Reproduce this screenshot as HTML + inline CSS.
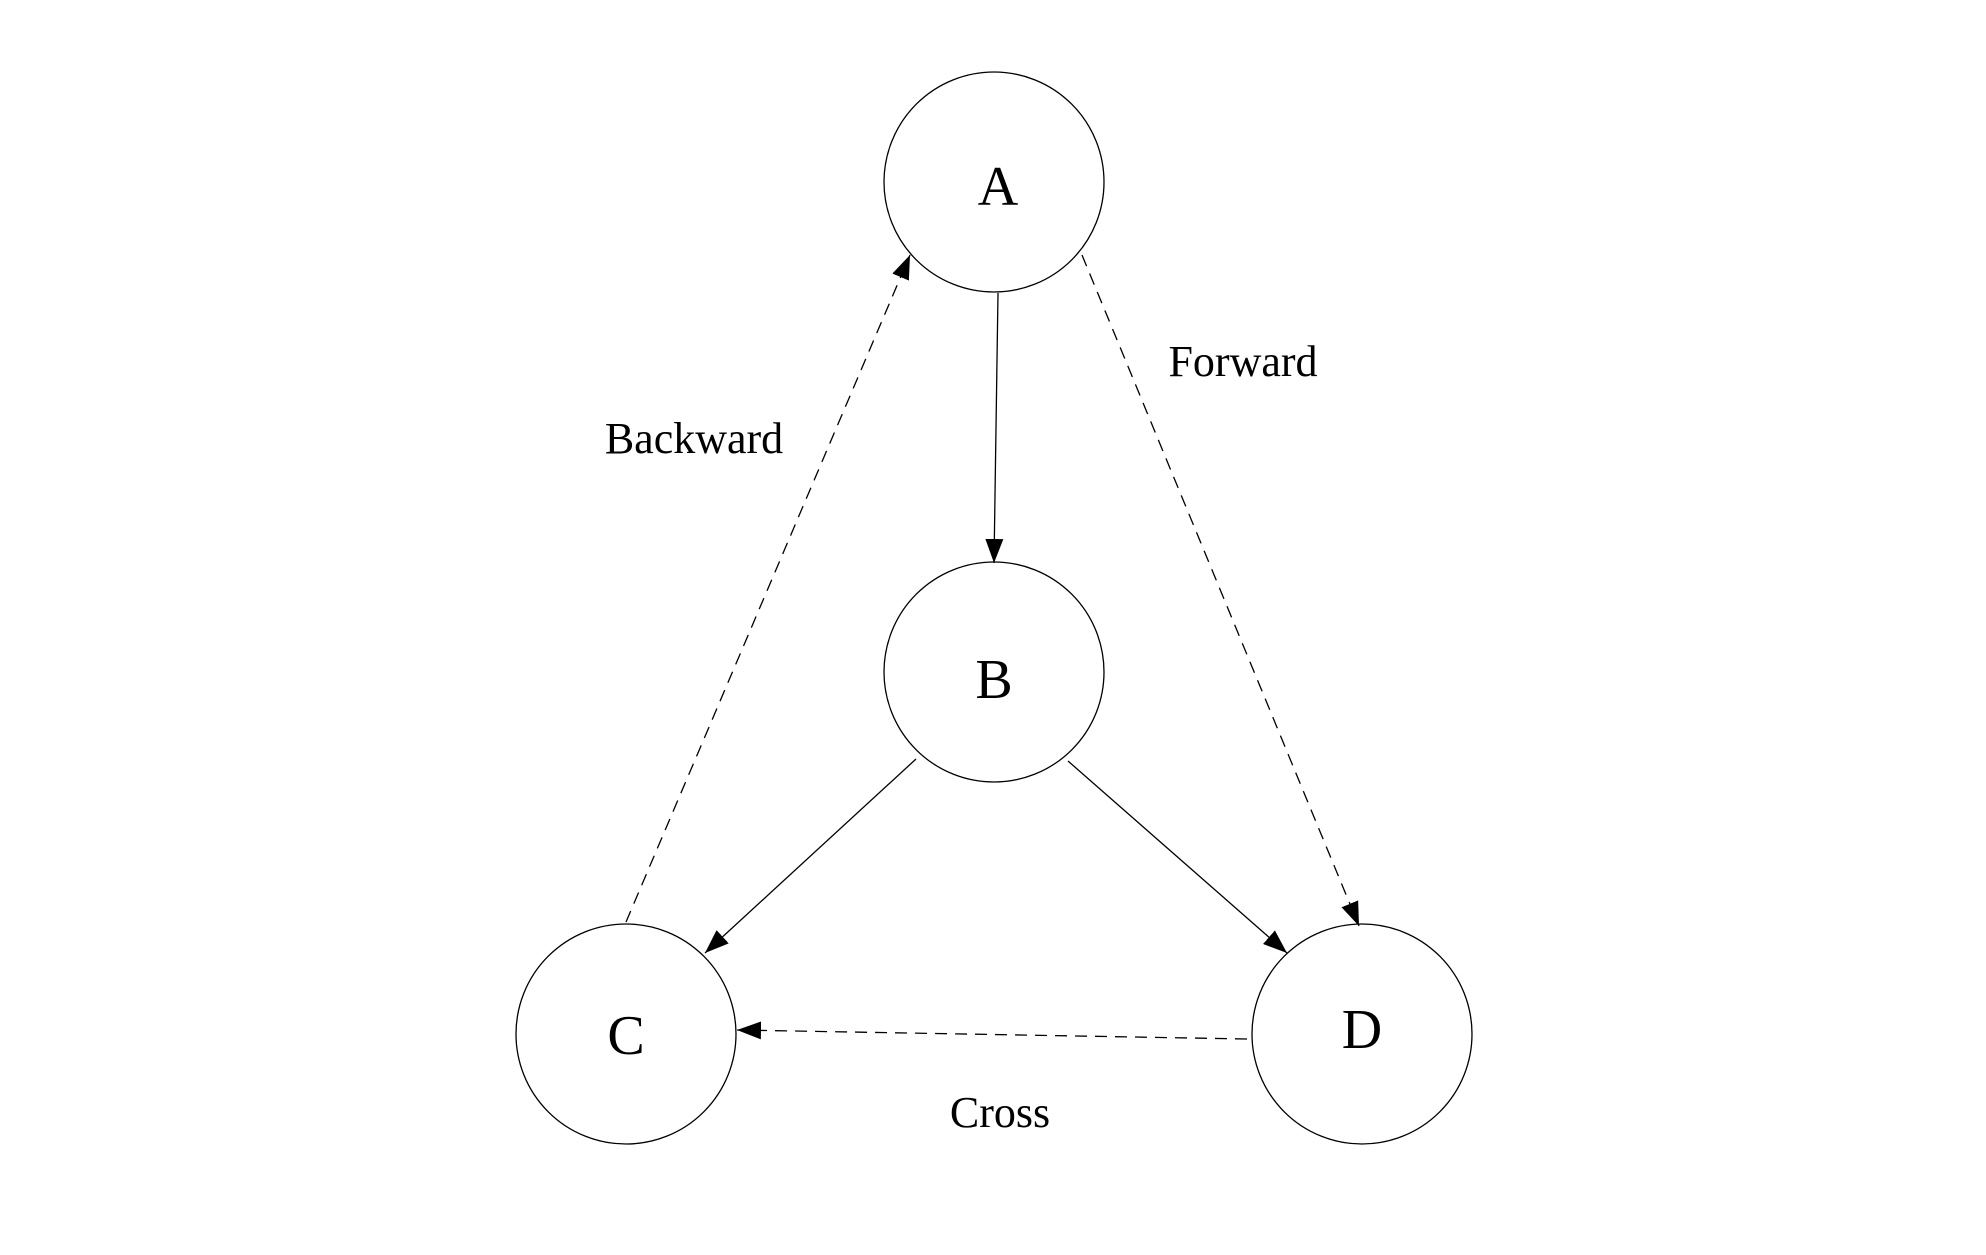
<!DOCTYPE html>
<html><head><style>body{margin:0;background:#fff}</style></head><body>
<svg width="1986" height="1250" viewBox="0 0 1986 1250" xmlns="http://www.w3.org/2000/svg">
<defs>
<marker id="a" viewBox="0 0 24 18" refX="24" refY="9" markerWidth="24" markerHeight="18" markerUnits="userSpaceOnUse" orient="auto"><path d="M0,0L24,9L0,18z" fill="#000"/></marker></defs>
<g transform="translate(-3,0)">
<g fill="none" stroke="#000" stroke-width="1.3">
<circle cx="997" cy="182" r="110"/>
<circle cx="997" cy="672" r="110"/>
<circle cx="629" cy="1034" r="110"/>
<circle cx="1365" cy="1034" r="110"/>
<line x1="1001" y1="293" x2="997" y2="563" marker-end="url(#a)"/>
<line x1="919" y1="759" x2="708" y2="953" marker-end="url(#a)"/>
<line x1="1071" y1="761" x2="1290" y2="953" marker-end="url(#a)"/>
<line x1="1085" y1="255" x2="1362" y2="926" stroke-dasharray="12,8" marker-end="url(#a)"/>
<line x1="629" y1="922" x2="913" y2="255" stroke-dasharray="12,8" marker-end="url(#a)"/>
<line x1="1250" y1="1039" x2="740" y2="1030" stroke-dasharray="12,8" marker-end="url(#a)"/>
</g>
<g font-family="Liberation Serif, serif" fill="#000" text-anchor="middle">
<text x="1001" y="205" font-size="56">A</text>
<text x="997" y="698" font-size="56">B</text>
<text x="629" y="1054" font-size="56">C</text>
<text x="1365" y="1048" font-size="56">D</text>
<text x="1246" y="376" font-size="44">Forward</text>
<text x="697" y="453" font-size="44">Backward</text>
<text x="1003" y="1127" font-size="44">Cross</text>
</g>
</g>
</svg>
</body></html>
